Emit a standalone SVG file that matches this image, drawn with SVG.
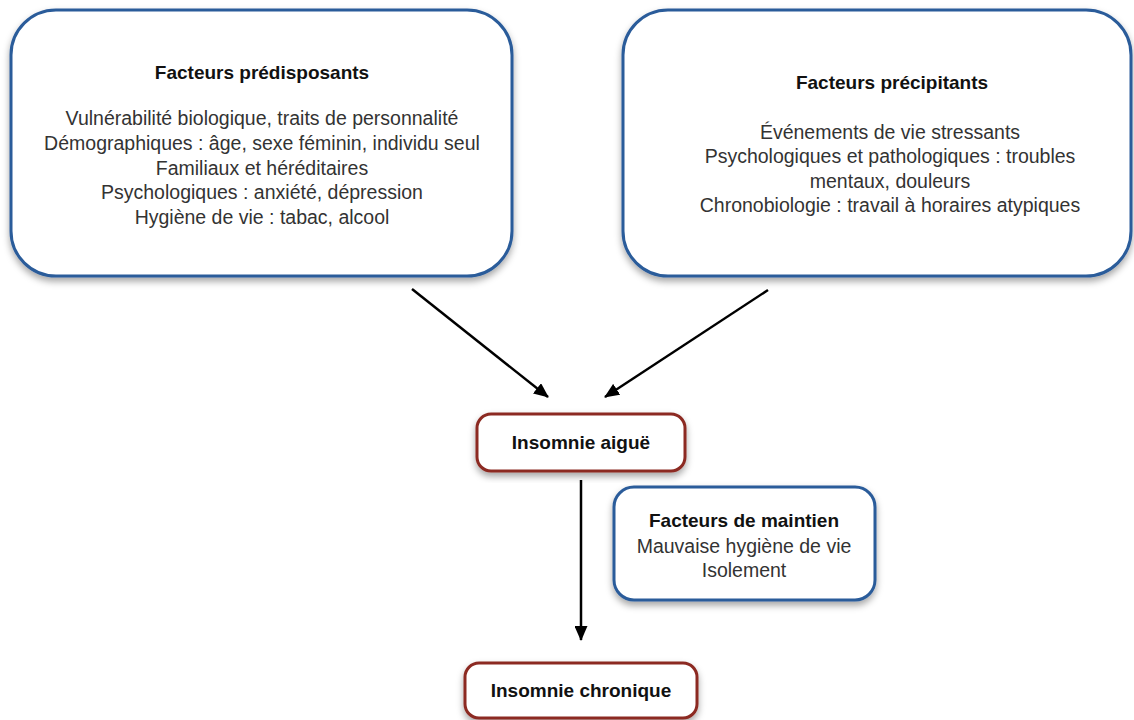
<svg xmlns="http://www.w3.org/2000/svg" width="1134" height="720" viewBox="0 0 1134 720">
<defs>
<filter id="sh" x="-10%" y="-10%" width="120%" height="130%">
<feDropShadow dx="0" dy="4" stdDeviation="3.5" flood-color="#000" flood-opacity="0.35"/>
</filter>
<marker id="ah" markerWidth="15" markerHeight="13" refX="14" refY="6.5" orient="auto" markerUnits="userSpaceOnUse" viewBox="0 0 15 13">
<path d="M0,0 L15,6.5 L0,13 Z" fill="#000"/>
</marker>
<style>
.blue{fill:#fff;stroke:#2a5b9a;stroke-width:3;filter:url(#sh)}
.red{fill:#fff;stroke:#8c2b22;stroke-width:3;filter:url(#sh)}
.t{font-family:"Liberation Sans",Arial,sans-serif;font-weight:bold;font-size:19px;fill:#111;text-anchor:middle}
.b{font-family:"Liberation Sans",Arial,sans-serif;font-size:19.5px;fill:#333;text-anchor:middle}
.c{stroke:#000;stroke-width:2.5;fill:none;marker-end:url(#ah)}
</style>
</defs>
<rect width="1134" height="720" fill="#fff"/>
<g id="connectors">
<line class="c" x1="412" y1="289" x2="548" y2="397"/>
<line class="c" x1="768" y1="290" x2="605" y2="397"/>
<line class="c" x1="581" y1="480" x2="581" y2="640"/>
</g>
<g id="predisposants">
<rect class="blue" x="11" y="10" width="501" height="266" rx="45"/>
<text class="t" x="262" y="79">Facteurs prédisposants</text>
<text class="b" x="262" y="125">Vulnérabilité biologique, traits de personnalité</text>
<text class="b" x="262" y="150">Démographiques : âge, sexe féminin, individu seul</text>
<text class="b" x="262" y="175">Familiaux et héréditaires</text>
<text class="b" x="262" y="199">Psychologiques : anxiété, dépression</text>
<text class="b" x="262" y="224">Hygiène de vie : tabac, alcool</text>
</g>
<g id="precipitants">
<rect class="blue" x="623" y="10" width="508" height="266" rx="45"/>
<text class="t" x="892" y="89">Facteurs précipitants</text>
<text class="b" x="890" y="139">Événements de vie stressants</text>
<text class="b" x="890" y="163">Psychologiques et pathologiques : troubles</text>
<text class="b" x="890" y="188">mentaux, douleurs</text>
<text class="b" x="890" y="212">Chronobiologie : travail à horaires atypiques</text>
</g>
<g id="aigue">
<rect class="red" x="477" y="414" width="208" height="57" rx="14"/>
<text class="t" x="581" y="449">Insomnie aiguë</text>
</g>
<g id="maintien">
<rect class="blue" x="614" y="487" width="261" height="113" rx="20"/>
<text class="t" x="744" y="527">Facteurs de maintien</text>
<text class="b" x="744" y="553">Mauvaise hygiène de vie</text>
<text class="b" x="744" y="577">Isolement</text>
</g>
<g id="chronique">
<rect class="red" x="465" y="663" width="232" height="55" rx="14"/>
<text class="t" x="581" y="697">Insomnie chronique</text>
</g>
</svg>
